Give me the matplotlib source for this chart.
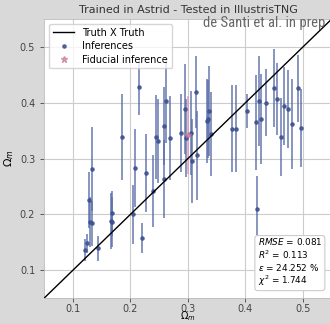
import matplotlib
matplotlib.use("Agg")
import matplotlib.pyplot as plt
from matplotlib.lines import Line2D
import numpy as np

# Data
truth = [0.121, 0.124, 0.128, 0.130, 0.133, 0.133, 0.143, 0.166, 0.168, 0.168,
         0.185, 0.204, 0.208, 0.215, 0.220, 0.227, 0.239, 0.244, 0.248, 0.258,
         0.258, 0.262, 0.269, 0.288, 0.295, 0.297, 0.305, 0.307, 0.314, 0.316,
         0.333, 0.335, 0.337, 0.340, 0.377, 0.384, 0.403, 0.418, 0.420, 0.423,
         0.427, 0.435, 0.450, 0.455, 0.462, 0.467, 0.474, 0.481, 0.491, 0.497]
pred = [0.136, 0.148, 0.226, 0.186, 0.184, 0.281, 0.139, 0.188, 0.186, 0.202,
        0.339, 0.200, 0.283, 0.428, 0.157, 0.274, 0.242, 0.339, 0.331, 0.263,
        0.358, 0.403, 0.337, 0.346, 0.389, 0.337, 0.346, 0.296, 0.419, 0.306,
        0.367, 0.371, 0.385, 0.344, 0.353, 0.353, 0.385, 0.365, 0.209, 0.403,
        0.371, 0.400, 0.426, 0.407, 0.339, 0.394, 0.389, 0.362, 0.426, 0.355]
err = [0.020, 0.017, 0.050, 0.045, 0.040, 0.075, 0.022, 0.050, 0.045, 0.040,
       0.077, 0.053, 0.070, 0.050, 0.027, 0.070, 0.065, 0.075, 0.075, 0.070,
       0.070, 0.075, 0.075, 0.070, 0.080, 0.070, 0.075, 0.075, 0.065, 0.080,
       0.075, 0.070, 0.080, 0.075, 0.078, 0.078, 0.030, 0.085, 0.060, 0.080,
       0.080, 0.060, 0.070, 0.065, 0.070, 0.070, 0.070, 0.080, 0.060, 0.070]
fid_truth = [0.300]
fid_pred = [0.342]
fid_err = [0.070]

stats_text = "$RMSE$ = 0.081\n$R^2$ = 0.113\n$\\varepsilon$ = 24.252 %\n$\\chi^2$ = 1.744"

fig = plt.figure(figsize=(3.3, 3.24), dpi=100, facecolor="#d9d9d9")
ax = fig.add_axes([0.1341, 0.0802, 0.871, 0.861])
ax.set_facecolor("white")
ax.set_xlim(0.05, 0.55)
ax.set_ylim(0.05, 0.55)
ax.grid(True, color="#cccccc", linewidth=0.8)
ax.set_axisbelow(True)
for s in ax.spines.values():
    s.set_color("#bbbbbb")
    s.set_linewidth(0.6)

ax.set_xticks([0.1, 0.2, 0.3, 0.4, 0.5])
ax.set_yticks([0.1, 0.2, 0.3, 0.4, 0.5])
ax.tick_params(labelsize=7, colors="#444444", length=3, width=0.6)
ax.tick_params(axis="x", pad=1.5)

ax.plot([0.05, 0.55], [0.05, 0.55], color="black", lw=1.0, zorder=3)
ax.errorbar(truth, pred, yerr=err, fmt="o", ms=2.3, color="#3e5190",
            ecolor="#5a6ea8", elinewidth=1.2, alpha=0.85, zorder=2)
ax.errorbar(fid_truth, fid_pred, yerr=fid_err, fmt="*", ms=4, color="#c87a98",
            ecolor="#d98aa5", elinewidth=1.2, alpha=0.7, zorder=2)

handles = [
    Line2D([], [], color="black", lw=1.0),
    Line2D([], [], color="#3e5190", marker="o", ms=2.3, ls="none", alpha=0.85),
    Line2D([], [], color="#c87a98", marker="*", ms=5, ls="none", alpha=0.7),
]
labels = ["Truth X Truth", "Inferences", "Fiducial inference"]
leg = ax.legend(handles, labels, loc="upper left", fontsize=7, frameon=True,
                borderpad=0.4, handlelength=2.2, labelspacing=0.35)
leg.get_frame().set_edgecolor("#cccccc")

ax.set_title("Trained in Astrid - Tested in IllustrisTNG", fontsize=8, color="#333333", pad=4.5)
ax.set_xlabel("$\\Omega_m$", fontsize=7, va="bottom")
ax.xaxis.set_label_coords(0.5, -0.0895)
ax.set_ylabel("$\\Omega_m$", fontsize=8, labelpad=3)

fig.text(0.985, 0.930, "de Santi et al. in prep", ha="right", va="center",
         fontsize=10.5, color="#666666",
         family=["Roboto Condensed", "Liberation Sans Narrow", "Roboto"])

ax.text(0.421, 0.068, stats_text, fontsize=6.4, ha="left", va="bottom",
        linespacing=1.1,
        bbox=dict(boxstyle="round,pad=0.3", facecolor="white", edgecolor="#cccccc", lw=0.8))

fig.savefig("out.png", dpi=100, facecolor=fig.get_facecolor())
